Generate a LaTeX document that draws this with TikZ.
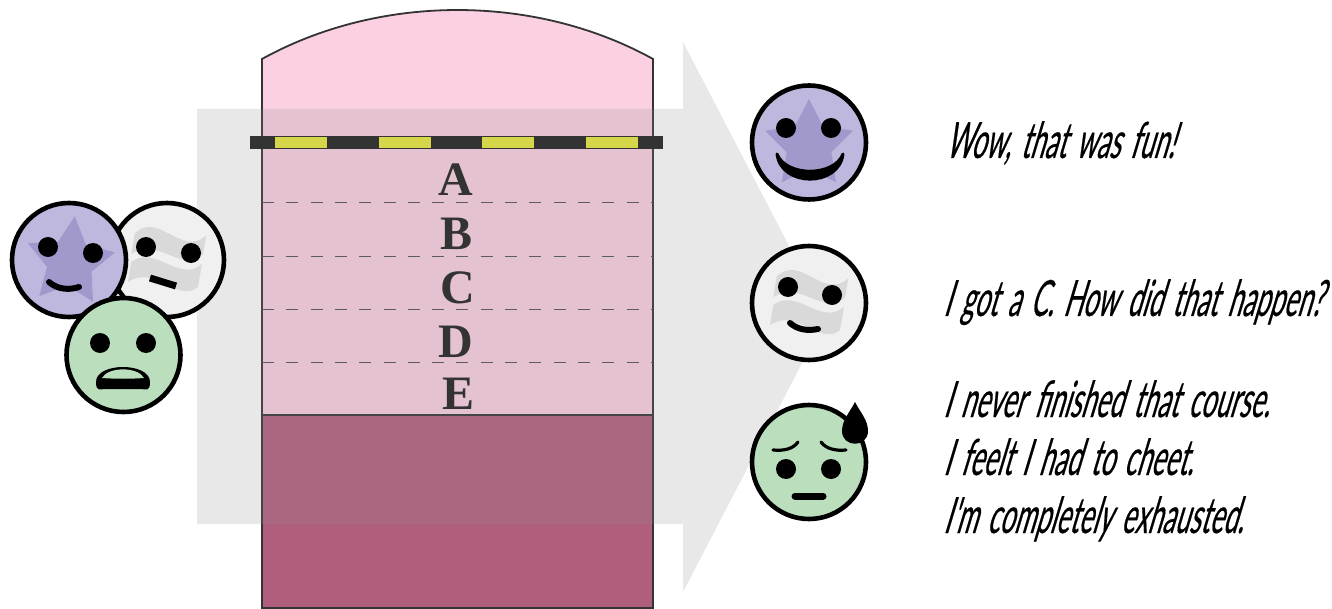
\documentclass[tikz,border=0pt]{standalone}
\usepackage{fontspec}
\usetikzlibrary{shapes.geometric}
\newfontfamily\handfont[FakeStretch=0.515,FakeSlant=0.3,FakeBold=0.4,WordSpace=1.5]{Lato}
\setmainfont{Liberation Serif}
\definecolor{colpink}{HTML}{FAD0E2}
\definecolor{coldark}{HTML}{B05E7E}
\definecolor{colline}{HTML}{333333}
\definecolor{colyellow}{HTML}{D6D64A}
\definecolor{colpurple}{HTML}{BFB8DE}
\definecolor{colstar}{HTML}{A199CB}
\definecolor{colwhite}{HTML}{F0F0F0}
\definecolor{colflag}{HTML}{D9D9D9}
\definecolor{colgreen}{HTML}{BBDFBD}
\definecolor{colarrow}{HTML}{8F8F8F}
\tikzset{
  x=1pt,y=-1pt,
  facering/.style={draw=black,line width=4.6pt},
  eye/.style={fill=black},
  mouthline/.style={draw=black,line width=6pt,line cap=round},
  letterlabel/.style={font=\fontsize{48}{48}\selectfont\bfseries,text=colline,inner sep=0pt,anchor=base},
  said/.style={font=\handfont\fontsize{50}{50}\selectfont,text=black,inner sep=0pt,anchor=base west},
  starmark/.style={star,star points=5,star point ratio=1.95,minimum size=92pt,inner sep=0pt,outer sep=0pt,fill=colstar},
  gradeline/.style={draw=colline!80,line width=1pt,dash pattern=on 12pt off 12.3pt},
  yellowseg/.style={fill=colyellow}
}
\newcommand{\flagmark}[2]{%
  \begin{scope}[shift={(#1,#2)}]
    \fill[colflag] (-32.3,-26.3) .. controls (-9,-50) and (14.3,-2) .. (39.3,-24.7)
      -- (36,-5.7) .. controls (14.3,14) and (-9,-24) .. (-35.7,-5.7) -- cycle;
    \fill[colflag] (-35.7,2) .. controls (-12.3,-16) and (12.7,24) .. (35,3.7)
      -- (31,27) .. controls (11,44) and (-12.3,4) .. (-39,22) -- cycle;
  \end{scope}}
\begin{document}
\begin{tikzpicture}
\useasboundingbox (0,0) rectangle (1332,609);
% column
\fill[colpink] (262,59) .. controls (380,-6.3) and (535,-6.3) .. (653,59) -- (653,415) -- (262,415) -- cycle;
\fill[coldark] (262,415) rectangle (653,608);
\draw[colline,line width=1.8pt] (262,608) -- (262,59) .. controls (380,-6.3) and (535,-6.3) .. (653,59) -- (653,608) -- cycle;
\draw[colline,line width=1.5pt] (262,415) -- (653,415);
% big arrow
\fill[colarrow,fill opacity=0.205] (197,109) -- (683,109) -- (683,42) -- (826,317) -- (683,592) -- (683,524) -- (197,524) -- cycle;
% grade lines
\foreach \yy in {202.5,256.5,309.5,362.5} \draw[gradeline] (262,\yy) -- (653,\yy);
% bar
\fill[colline] (250,136) rectangle (663,149.5);
\foreach \xx in {275,378.5,482,586} \fill[yellowseg] (\xx,137) rectangle ++(52,11);
% letters
\node[letterlabel] (gradeA) at (456,196) {A};
\node[letterlabel] (gradeB) at (456.5,250) {B};
\node[letterlabel] (gradeC) at (458,304) {C};
\node[letterlabel] (gradeD) at (456,357) {D};
\node[letterlabel] (gradeE) at (458.5,409) {E};
% left group: white
\filldraw[fill=colwhite,facering] (167,260) circle[radius=57pt];
\flagmark{167}{260}
\fill[eye] (146,247) circle[radius=10pt];
\fill[eye] (191,253) circle[radius=10pt];
\draw[black,line width=7pt] (150,278) -- (176,286);
% left group: purple
\filldraw[fill=colpurple,facering] (69,260) circle[radius=57pt];
\node[starmark,rotate=-6] (leftstar) at (70,262) {};
\fill[eye] (48,247) circle[radius=10pt];
\fill[eye] (93,253) circle[radius=10pt];
\draw[mouthline] (49,282) .. controls (58,290) and (70,290) .. (79,287);
% left group: green
\filldraw[fill=colgreen,facering] (123.5,355) circle[radius=57pt];
\fill[eye] (100,343) circle[radius=10pt];
\fill[eye] (146,343) circle[radius=10pt];
\fill[black] (96,382) .. controls (96,362) and (150,362) .. (150,382) .. controls (150,392) and (146,389) .. (140,389) -- (106,389) .. controls (100,389) and (96,392) .. (96,382) -- cycle;
\fill[colgreen] (102,378) .. controls (108,366.5) and (138,366.5) .. (144,378) .. controls (130,379) and (116,379) .. (102,378) -- cycle;
% right: happy
\filldraw[fill=colpurple,facering] (809,142.5) circle[radius=57pt];
\node[starmark] (rightstar) at (809,145) {};
\fill[eye] (786,128) circle[radius=10pt];
\fill[eye] (831,128) circle[radius=10pt];
\filldraw[black,line width=3pt,line join=round] (777,154) .. controls (781,187.5) and (839,187.5) .. (843,154) .. controls (834,177) and (786,177) .. (777,154) -- cycle;
% right: neutral
\filldraw[fill=colwhite,facering] (809,303) circle[radius=57pt];
\flagmark{809}{303}
\fill[eye] (788,287) circle[radius=10pt];
\fill[eye] (832,295) circle[radius=10pt];
\draw[mouthline] (790,323) .. controls (798,330) and (808,331) .. (818,329);
% right: exhausted
\filldraw[fill=colgreen,facering] (809,462) circle[radius=57pt];
\fill[eye] (786,469) circle[radius=10pt];
\fill[eye] (831,469) circle[radius=10pt];
\draw[black,line width=7pt,line cap=round] (795,496) -- (823,496);
\draw[black,line width=3.2pt,line cap=round] (773,450) .. controls (784,451) and (793,449) .. (798,442);
\draw[black,line width=3.2pt,line cap=round] (821,442) .. controls (826,449) and (836,451) .. (846,450);
\fill[black] (855,402) .. controls (860,412) and (868,420) .. (868,431) .. controls (868,448) and (842,448) .. (842,431) .. controls (842,420) and (850,412) .. (855,402) -- cycle;
% texts
\node[said] (say1) at (945,158) {Wow, that was fun!};
\node[said] (say2) at (943,316) {I got a C. How did that happen?};
\node[said] (say3) at (943,417) {I never finished that course.};
\node[said] (say4) at (943,475) {I feelt I had to cheet.};
\node[said] (say5) at (943,533) {I'm completely exhausted.};
\end{tikzpicture}
\end{document}
